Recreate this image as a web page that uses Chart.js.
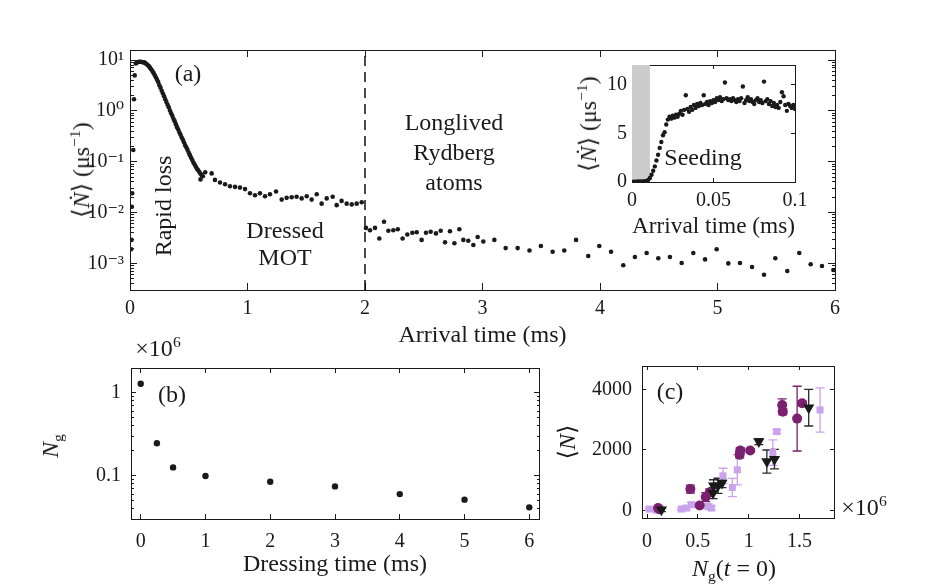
<!DOCTYPE html>
<html>
<head>
<meta charset="utf-8">
<title>Rydberg dressing - arrival rates</title>
<script src="https://cdn.jsdelivr.net/npm/chart.js@4.4.1/dist/chart.umd.min.js"></script>
<style>
  body { margin: 0; background: #fff; }
  #page { position: relative; width: 925px; height: 587px; overflow: hidden;
          font-family: 'Liberation Serif', 'DejaVu Serif', 'DejaVu Sans', serif; color: #1a1a1a; }
  canvas { position: absolute; left: 0; top: 0; }
  .txt { position: absolute; transform: translate(-50%, -50%); white-space: nowrap;
         font-size: 24px; line-height: 1; z-index: 5; }
  .rot { transform: translate(-50%, -50%) rotate(-90deg); }
  sup { font-size: 65%; vertical-align: 0.6em; line-height: 0; }
  sub { font-size: 65%; vertical-align: -0.35em; line-height: 0; }
</style>
</head>
<body>
<div id="page">
  <canvas id="mainChart" width="925" height="587"></canvas>
  <canvas id="insetChart" width="925" height="587"></canvas>
  <canvas id="dressChart" width="925" height="587"></canvas>
  <canvas id="atomChart" width="925" height="587"></canvas>

  <div class="txt rot" style="left:81px;top:170px">⟨<i>Ṅ</i>⟩ (μs<sup>−1</sup>)</div>
  <div class="txt" style="left:188px;top:73px">(a)</div>
  <div class="txt rot" style="left:163px;top:206px">Rapid loss</div>
  <div class="txt" style="left:285px;top:230px">Dressed</div>
  <div class="txt" style="left:285px;top:257px">MOT</div>
  <div class="txt" style="left:454px;top:122px">Longlived</div>
  <div class="txt" style="left:454px;top:152px">Rydberg</div>
  <div class="txt" style="left:454px;top:182px">atoms</div>
  <div class="txt" style="left:703px;top:157px">Seeding</div>
  <div class="txt rot" style="left:588px;top:124px">⟨<i>Ṅ</i>⟩ (μs<sup>−1</sup>)</div>

  <div class="txt" style="left:158px;top:348px">×10<sup>6</sup></div>
  <div class="txt" style="left:172px;top:394px">(b)</div>
  <div class="txt rot" style="left:50px;top:446px"><i>N</i><sub>g</sub></div>

  <div class="txt" style="left:670px;top:391px">(c)</div>
  <div class="txt rot" style="left:567px;top:442px">⟨<i>N</i>⟩</div>
  <div class="txt" style="left:864px;top:507px">×10<sup>6</sup></div>
  <div class="txt" style="left:734px;top:568px"><i>N</i><sub>g</sub>(<i>t</i> = 0)</div>
</div>

<script>
// Panel (a): arrival rate of ions vs arrival time
const riseTime = [0.010, 0.013, 0.016, 0.019, 0.028, 0.034, 0.040];
const riseRate = [0.0019, 0.0029, 0.013, 0.024, 0.17, 1.7, 5.0];

const lossTime = [0.05, 0.06, 0.07, 0.08, 0.09, 0.10, 0.11, 0.12, 0.13, 0.14,
                  0.15, 0.16, 0.17, 0.18, 0.19, 0.20, 0.21, 0.22, 0.23, 0.24,
                  0.25, 0.26, 0.27, 0.28, 0.29, 0.30, 0.31, 0.32, 0.33, 0.34,
                  0.35, 0.36, 0.37, 0.38, 0.39, 0.40, 0.41, 0.42, 0.43, 0.44,
                  0.45, 0.46, 0.47, 0.48, 0.49, 0.50, 0.51, 0.52, 0.53, 0.54,
                  0.55, 0.56, 0.57, 0.58, 0.59, 0.60, 0.61, 0.62];
const lossRate = [8.6, 9.0, 9.2, 9.3, 9.3, 9.2, 9.1, 9.0, 8.7, 8.4,
                  8.0, 7.6, 7.1, 6.6, 6.1, 5.6, 5.1, 4.6, 4.1, 3.7,
                  3.2, 2.85, 2.5, 2.2, 1.95, 1.7, 1.5, 1.32, 1.18, 1.02,
                  0.9, 0.8, 0.7, 0.63, 0.55, 0.48, 0.43, 0.38, 0.34, 0.3,
                  0.27, 0.24, 0.21, 0.19, 0.17, 0.15, 0.135, 0.12, 0.108, 0.097,
                  0.088, 0.08, 0.073, 0.068, 0.063, 0.058, 0.055, 0.052];

const motTime = [0.60, 0.64, 0.695, 0.723, 0.766, 0.809, 0.851, 0.894, 0.936, 0.979,
                 1.021, 1.064, 1.106, 1.149, 1.191, 1.243, 1.291, 1.333, 1.376, 1.418,
                 1.461, 1.504, 1.546, 1.589, 1.631, 1.674, 1.725, 1.759, 1.801, 1.844,
                 1.887, 1.929, 1.972];
const motRate = [0.045, 0.062, 0.059, 0.044, 0.039, 0.036, 0.033, 0.032, 0.031, 0.029,
                 0.024, 0.022, 0.024, 0.021, 0.023, 0.026, 0.018, 0.0195, 0.020, 0.0205,
                 0.019, 0.021, 0.018, 0.023, 0.015, 0.019, 0.0205, 0.014, 0.017, 0.015,
                 0.0145, 0.015, 0.016];

const rydTime = [2.008, 2.043, 2.085, 2.122, 2.162, 2.199, 2.241, 2.279, 2.32, 2.36,
                 2.403, 2.44, 2.482, 2.519, 2.559, 2.604, 2.644, 2.681, 2.723, 2.761,
                 2.803, 2.837, 2.879, 2.922, 2.959, 3.007, 3.101, 3.197, 3.299, 3.40,
                 3.497, 3.597, 3.696, 3.796, 3.9, 3.994, 4.094, 4.198, 4.297, 4.397,
                 4.496, 4.595, 4.695, 4.794, 4.894, 4.993, 5.092, 5.191, 5.294, 5.396,
                 5.492, 5.594, 5.696, 5.793, 5.889, 5.986];
const rydRate = [0.0050, 0.0045, 0.0050, 0.0031, 0.0066, 0.0044, 0.0045, 0.0047, 0.0031, 0.0037,
                 0.0040, 0.0041, 0.0029, 0.0040, 0.0042, 0.0039, 0.0044, 0.0026, 0.0043, 0.0025,
                 0.0047, 0.0029, 0.0028, 0.0023, 0.0033, 0.0027, 0.0029, 0.0020, 0.0020, 0.0018,
                 0.0022, 0.0017, 0.0018, 0.0029, 0.0014, 0.0022, 0.0017, 0.00092, 0.00134, 0.0016,
                 0.00126, 0.00134, 0.00102, 0.0016, 0.0012, 0.0019, 0.0010, 0.00102, 0.00085, 0.0006,
                 0.00126, 0.00071, 0.0016, 0.00096, 0.00089, 0.00074];

const dressingEnd = 2;           // ms, dashed line
const ticksAX = [0, 1, 2, 3, 4, 5, 6];
const rangeAY = [3e-4, 15.8];

// Inset: first 0.1 ms
const insetTime = [0.001, 0.002, 0.003, 0.004, 0.005, 0.006, 0.007, 0.008, 0.009, 0.010,
                   0.011, 0.012, 0.013, 0.014, 0.015, 0.016, 0.017, 0.018, 0.019, 0.020,
                   0.021, 0.022, 0.023, 0.024, 0.025, 0.026, 0.027, 0.028, 0.029, 0.030,
                   0.031, 0.032, 0.033, 0.034, 0.035, 0.036, 0.037, 0.038, 0.039, 0.040,
                   0.041, 0.042, 0.043, 0.044, 0.045, 0.046, 0.047, 0.048, 0.049, 0.050,
                   0.051, 0.052, 0.053, 0.054, 0.055, 0.056, 0.057, 0.058, 0.059, 0.060,
                   0.061, 0.062, 0.063, 0.064, 0.065, 0.066, 0.067, 0.068, 0.069, 0.070,
                   0.071, 0.072, 0.073, 0.074, 0.075, 0.076, 0.077, 0.078, 0.079, 0.080,
                   0.081, 0.082, 0.083, 0.084, 0.085, 0.086, 0.087, 0.088, 0.089, 0.090,
                   0.091, 0.092, 0.093, 0.094, 0.095, 0.096, 0.097, 0.098, 0.099, 0.100];
const insetRate = [0.03, 0.04, 0.03, 0.05, 0.04, 0.05, 0.06, 0.08, 0.12, 0.22,
                   0.42, 0.75, 1.15, 1.6, 2.2, 2.8, 3.5, 4.1, 4.8, 5.1,
                   5.9, 6.4, 6.7, 6.5, 6.8, 6.6, 6.9, 6.7, 7.0, 7.3,
                   6.9, 7.4, 8.9, 7.5, 7.2, 7.7, 7.4, 7.9, 7.6, 8.0,
                   7.8, 8.1, 7.9, 8.9, 8.0, 8.2, 7.9, 8.3, 8.1, 8.4,
                   8.2, 8.6, 8.4, 8.7, 8.3, 8.5, 10.2, 8.6, 8.4, 8.5,
                   8.3, 8.6, 8.4, 8.2, 8.5, 8.3, 8.6, 9.8, 8.1, 8.4,
                   8.7, 8.3, 8.5, 8.2, 8.0, 8.4, 8.6, 8.2, 8.4, 8.1,
                   10.3, 8.3, 8.5, 8.0, 8.3, 7.8, 8.1, 7.7, 7.9, 7.6,
                   8.2, 9.2, 8.8, 7.9, 7.3, 8.0, 7.8, 7.6, 7.9, 7.5];
const seedingEnd = 0.011;        // ms, grey band
const ticksInsetX = [0, 0.05, 0.1];
const ticksInsetY = [0, 5, 10];

// Panel (b): ground-state atoms vs dressing time
const dressTime = [0, 0.25, 0.5, 1, 2, 3, 4, 5, 6];
const groundAtoms = [1.29, 0.247, 0.126, 0.099, 0.0847, 0.0743, 0.060, 0.0514, 0.0415];
const ticksBX = [0, 1, 2, 3, 4, 5, 6];
const rangeBY = [0.03, 2];

// Panel (c): total counts vs initial atom number
const circNg  = [0.108, 0.12, 0.426, 0.518, 0.577, 0.616, 0.911, 0.917, 1.015, 1.33, 1.336, 1.477, 1.526];
const circN   = [79, 40, 705, 165, 441, 593, 1835, 1977, 1977, 3483, 3262, 3032, 3538];
const circErr = [40, 40, 130, 50, 150, 120, 100, 100, 60, 200, 100, 1070, 80];

const sqNg  = [0.02, 0.09, 0.338, 0.387, 0.436, 0.6, 0.632, 0.747, 0.839, 0.888, 1.238, 1.277, 1.703];
const sqN   = [46, 10, 46, 79, 188, 132, 79, 1143, 758, 1341, 1911, 2604, 3318];
const sqErr = [40, 40, 40, 60, 80, 80, 60, 250, 300, 500, 420, 60, 730];

const triNg  = [0.141, 0.649, 0.655, 0.698, 0.737, 1.1, 1.179, 1.254, 1.591];
const triN   = [22, 572, 813, 813, 902, 2274, 1615, 1694, 3394];
const triErr = [60, 180, 200, 250, 150, 100, 380, 320, 605];

const ticksCX = [0, 0.5, 1, 1.5];
const ticksCY = [0, 2000, 4000];

const INK = '#1a1a1a';
const SERIF = "'Liberation Serif', 'DejaVu Serif', 'DejaVu Sans', serif";
const SUP = {'-': '⁻', '0': '⁰', '1': '¹', '2': '²', '3': '³', '4': '⁴', '5': '⁵', '6': '⁶', '7': '⁷', '8': '⁸', '9': '⁹'};

document.addEventListener('DOMContentLoaded', function() {
    initMainChart();
    initInsetChart();
    initDressChart();
    initAtomChart();
});

function isDecade(v) {
    const e = Math.log10(v);
    return Math.abs(e - Math.round(e)) < 1e-6;
}

function powerLabel(v) {
    if (!isDecade(v)) return '';
    return '10' + String(Math.round(Math.log10(v))).split('').map(c => SUP[c]).join('');
}

// decades plus the 2..9 minor positions inside [lo, hi]
function logTicks(lo, hi) {
    const out = [];
    for (let e = Math.floor(Math.log10(lo)); e <= Math.ceil(Math.log10(hi)); e++) {
        for (let m = 1; m <= 9; m++) {
            const v = m * Math.pow(10, e);
            if (v >= lo * 0.999 && v <= hi * 1.001) out.push(v);
        }
    }
    return out;
}

function points(xs, ys) {
    return xs.map((x, i) => ({ x: x, y: ys[i] }));
}

// inward ticks, minor log ticks shortened with a dash pattern
function gridFor(position, len, minorLen) {
    const startsInside = position === 'left' || position === 'top';
    return {
        drawOnChartArea: false,
        drawTicks: true,
        tickLength: -len,
        tickColor: INK,
        tickWidth: 1,
        tickBorderDash: function(ctx) {
            if (!minorLen || !ctx.tick || isDecade(ctx.tick.value)) return [];
            return startsInside ? [0, len - minorLen, minorLen, 100] : [minorLen, 100];
        }
    };
}

// axis with fixed thickness so the plot box lands where the figure has it
function makeScale(position, type, range, tickValues, size, len, opts) {
    opts = opts || {};
    const horizontal = position === 'top' || position === 'bottom';
    return {
        type: type,
        position: position,
        axis: horizontal ? 'x' : 'y',
        min: range[0],
        max: range[1],
        bounds: 'data',
        afterBuildTicks: function(scale) {
            scale.ticks = tickValues.map(v => ({ value: v }));
        },
        afterFit: function(scale) {
            if (horizontal) scale.height = size; else scale.width = size;
        },
        border: { display: true, color: INK, width: 1 },
        grid: gridFor(position, len, opts.minorLen || 0),
        ticks: {
            display: !!opts.label,
            autoSkip: false,
            maxRotation: 0,
            padding: opts.pad || 0,
            color: INK,
            font: { family: SERIF, size: 20 },
            callback: opts.label || (() => '')
        },
        title: opts.title ? {
            display: true,
            text: opts.title,
            color: INK,
            padding: 0,
            font: { family: SERIF, size: 24 }
        } : { display: false }
    };
}

function baseOptions(padding, scales) {
    return {
        responsive: false,
        animation: false,
        events: [],
        layout: { padding: padding },
        plugins: { legend: { display: false }, tooltip: { enabled: false } },
        scales: scales
    };
}

// Panel (a)
function initMainChart() {
    const ctx = document.getElementById('mainChart').getContext('2d');
    const yTicks = logTicks(rangeAY[0], rangeAY[1]);
    const dot = { backgroundColor: INK, borderWidth: 0, pointRadius: 2.3 };
    new Chart(ctx, {
        type: 'scatter',
        data: {
            datasets: [
                Object.assign({ data: points(riseTime, riseRate) }, dot),
                Object.assign({ data: points(lossTime, lossRate) }, dot),
                Object.assign({ data: points(motTime, motRate) }, dot),
                Object.assign({ data: points(rydTime, rydRate) }, dot),
                {
                    data: [{ x: dressingEnd, y: rangeAY[0] }, { x: dressingEnd, y: rangeAY[1] }],
                    showLine: true,
                    borderColor: '#000',
                    borderWidth: 1.4,
                    borderDash: [10, 6],
                    pointRadius: 0
                }
            ]
        },
        options: baseOptions({ left: 70, top: 50, right: 90, bottom: 237 }, {
            x: makeScale('bottom', 'linear', [0, 6], ticksAX, 60, 7,
                { label: v => String(v), pad: 14, title: 'Arrival time (ms)' }),
            x2: makeScale('top', 'linear', [0, 6], ticksAX, 0, 7),
            y: makeScale('left', 'logarithmic', rangeAY, yTicks, 60, 7,
                { label: powerLabel, pad: 13, minorLen: 4 }),
            y2: makeScale('right', 'logarithmic', rangeAY, yTicks, 0, 7, { minorLen: 4 })
        })
    });
}

// Inset of panel (a)
function initInsetChart() {
    const ctx = document.getElementById('insetChart').getContext('2d');
    new Chart(ctx, {
        type: 'scatter',
        data: {
            datasets: [
                {
                    data: points(insetTime, insetRate),
                    backgroundColor: INK,
                    borderWidth: 0,
                    pointRadius: 2.2,
                    order: 1
                },
                {
                    data: [{ x: 0, y: 12 }, { x: seedingEnd, y: 12 }],
                    showLine: true,
                    fill: { value: 0 },
                    backgroundColor: '#cccccc',
                    borderWidth: 0,
                    pointRadius: 0,
                    order: 2
                }
            ]
        },
        options: baseOptions({ left: 582, top: 65, right: 130, bottom: 346 }, {
            x: makeScale('bottom', 'linear', [0, 0.1], ticksInsetX, 59, 4,
                { label: v => String(v), pad: 11, title: 'Arrival time (ms)' }),
            x2: makeScale('top', 'linear', [0, 0.1], ticksInsetX, 0, 4),
            y: makeScale('left', 'linear', [0, 12], ticksInsetY, 50, 4,
                { label: v => String(v), pad: 9 }),
            y2: makeScale('right', 'linear', [0, 12], ticksInsetY, 0, 4)
        })
    });
}

// Panel (b)
function initDressChart() {
    const ctx = document.getElementById('dressChart').getContext('2d');
    const yTicks = logTicks(rangeBY[0], rangeBY[1]);
    new Chart(ctx, {
        type: 'scatter',
        data: {
            datasets: [{
                data: points(dressTime, groundAtoms),
                backgroundColor: INK,
                borderWidth: 0,
                pointRadius: 3.2
            }]
        },
        options: baseOptions({ left: 81, top: 368, right: 386, bottom: 8 }, {
            x: makeScale('bottom', 'linear', [-0.15, 6.15], ticksBX, 60, 5,
                { label: v => String(v), pad: 16, title: 'Dressing time (ms)' }),
            x2: makeScale('top', 'linear', [-0.15, 6.15], ticksBX, 0, 5),
            y: makeScale('left', 'logarithmic', rangeBY, yTicks, 50, 5,
                { label: v => isDecade(v) ? String(+v.toPrecision(3)) : '', pad: 15, minorLen: 3 }),
            y2: makeScale('right', 'logarithmic', rangeBY, yTicks, 0, 5, { minorLen: 3 })
        })
    });
}

// vertical error bars with caps, drawn under the markers
const errorBars = {
    id: 'errorBars',
    beforeDatasetsDraw(chart) {
        const c = chart.ctx;
        const xs = chart.scales.x;
        const ys = chart.scales.y;
        chart.data.datasets.forEach(ds => {
            if (!ds.errY) return;
            c.save();
            c.strokeStyle = ds.barColor;
            c.lineWidth = 1.3;
            ds.data.forEach((p, j) => {
                const px = xs.getPixelForValue(p.x);
                const top = ys.getPixelForValue(p.y + ds.errY[j]);
                const bot = ys.getPixelForValue(p.y - ds.errY[j]);
                c.beginPath();
                c.moveTo(px, top); c.lineTo(px, bot);
                c.moveTo(px - 4.5, top); c.lineTo(px + 4.5, top);
                c.moveTo(px - 4.5, bot); c.lineTo(px + 4.5, bot);
                c.stroke();
            });
            c.restore();
        });
    }
};

// Panel (c)
function initAtomChart() {
    const ctx = document.getElementById('atomChart').getContext('2d');
    new Chart(ctx, {
        type: 'scatter',
        data: {
            datasets: [
                {
                    data: points(sqNg, sqN),
                    errY: sqErr,
                    barColor: '#c9a3ec',
                    pointStyle: 'rect',
                    pointRadius: 5,
                    backgroundColor: '#c9a3ec',
                    borderWidth: 0,
                    order: 3
                },
                {
                    data: points(circNg, circN),
                    errY: circErr,
                    barColor: '#7b1f6f',
                    pointStyle: 'circle',
                    pointRadius: 5,
                    backgroundColor: '#7b1f6f',
                    borderWidth: 0,
                    order: 2
                },
                {
                    data: points(triNg, triN),
                    errY: triErr,
                    barColor: '#2a2a2a',
                    pointStyle: 'triangle',
                    rotation: 180,
                    pointRadius: 6.5,
                    backgroundColor: '#1a1a1a',
                    borderWidth: 0,
                    order: 1
                }
            ]
        },
        options: baseOptions({ left: 592, top: 366, right: 91, bottom: 29 }, {
            x: makeScale('bottom', 'linear', [-0.05, 1.84], ticksCX, 40, 4,
                { label: v => String(v), pad: 16 }),
            x2: makeScale('top', 'linear', [-0.05, 1.84], ticksCX, 0, 4),
            y: makeScale('left', 'linear', [-250, 4770], ticksCY, 50, 4,
                { label: v => String(v), pad: 14 }),
            y2: makeScale('right', 'linear', [-250, 4770], ticksCY, 0, 4)
        }),
        plugins: [errorBars]
    });
}
</script>
</body>
</html>
